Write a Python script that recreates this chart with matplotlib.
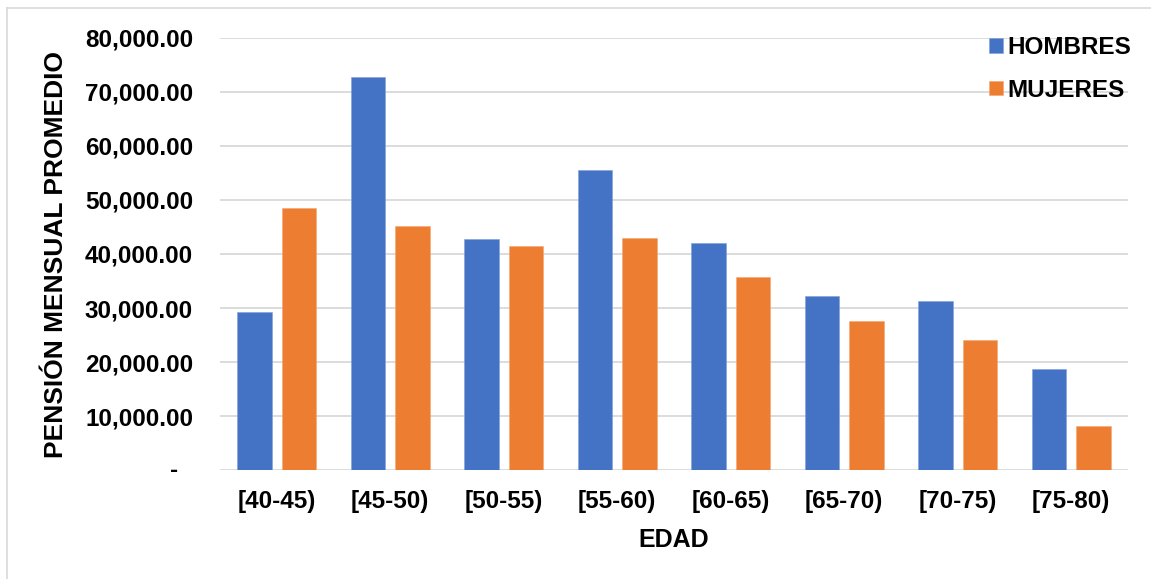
import matplotlib
matplotlib.use("Agg")
import matplotlib.pyplot as plt
from matplotlib.lines import Line2D
from matplotlib.ticker import FuncFormatter, MultipleLocator
import numpy as np

# Average monthly pension by age bracket and sex
categories = ["[40-45)", "[45-50)", "[50-55)", "[55-60)",
              "[60-65)", "[65-70)", "[70-75)", "[75-80)"]
hombres = [29200, 72700, 42750, 55500, 42050, 32250, 31300, 18800]
mujeres = [48550, 45200, 41450, 42950, 35750, 27650, 24100, 8200]
series_names = ["HOMBRES", "MUJERES"]
y_max = 80000
y_step = 10000

BLUE = "#4472C4"
ORANGE = "#ED7D31"
GRID = "#D9D9D9"
FONT = "Liberation Sans"

W, H = 1151, 579
fig = plt.figure(figsize=(W / 100, H / 100), dpi=100)
fig.patch.set_facecolor("white")

# chart-area border (left and top edges)
fig.add_artist(Line2D([7 / W, 7 / W], [0, 1 - 8 / H], transform=fig.transFigure,
                      color=GRID, lw=1.2))
fig.add_artist(Line2D([7 / W, 1], [1 - 8 / H, 1 - 8 / H], transform=fig.transFigure,
                      color=GRID, lw=1.2))

left, right = 220 / W, 1128 / W
bottom, top = 1 - 470.3 / H, 1 - 37.7 / H
ax = fig.add_axes([left, bottom, right - left, top - bottom])

x = np.arange(len(categories))
offset = 0.194
width = 0.304
ax.bar(x - offset, hombres, width, color=BLUE, label=series_names[0], zorder=3,
       edgecolor="#7F9FD9", linewidth=0.4)
ax.bar(x + offset, mujeres, width, color=ORANGE, label=series_names[1], zorder=3,
       edgecolor="#F4A574", linewidth=0.4)

ax.set_xlim(-0.5, len(categories) - 0.5)
ax.set_ylim(0, y_max)
ax.yaxis.set_major_locator(MultipleLocator(y_step))
ax.yaxis.set_major_formatter(FuncFormatter(lambda v, p: "" if v == 0 else f"{v:,.2f}"))
ax.grid(axis="y", color=GRID, lw=1.3, zorder=0)
ax.set_axisbelow(True)
for s in ax.spines.values():
    s.set_visible(False)

ax.set_xticks(x)
ax.set_xticklabels(categories)
ax.tick_params(axis="both", length=0)
ax.tick_params(axis="y", pad=19.4)
ax.tick_params(axis="x", pad=14)
for lab in ax.get_xticklabels() + ax.get_yticklabels():
    lab.set_fontfamily(FONT)
    lab.set_fontweight("bold")
    lab.set_fontsize(17.5)

# zero label drawn as a dash (accounting style)
ax.annotate("-", xy=(0, 0), xycoords=("axes fraction", "data"),
            xytext=(-42, 0), textcoords="offset pixels",
            ha="right", va="center", fontfamily=FONT, fontweight="bold",
            fontsize=17.5)

ax.set_ylabel("PENSIÓN MENSUAL PROMEDIO", fontfamily=FONT, fontweight="bold",
              fontsize=19, labelpad=12)
ax.set_xlabel("EDAD", fontfamily=FONT, fontweight="bold", fontsize=18, labelpad=11)

leg = ax.legend(loc="upper left", bbox_to_anchor=(977 / W, 1 - 24 / H),
                bbox_transform=fig.transFigure, frameon=False, borderpad=0,
                handlelength=0.55, handleheight=0.55, handletextpad=0.22,
                labelspacing=0.8,
                prop={"family": FONT, "weight": "bold", "size": 17.5})

fig.savefig("out.png", dpi=100, facecolor="white")
